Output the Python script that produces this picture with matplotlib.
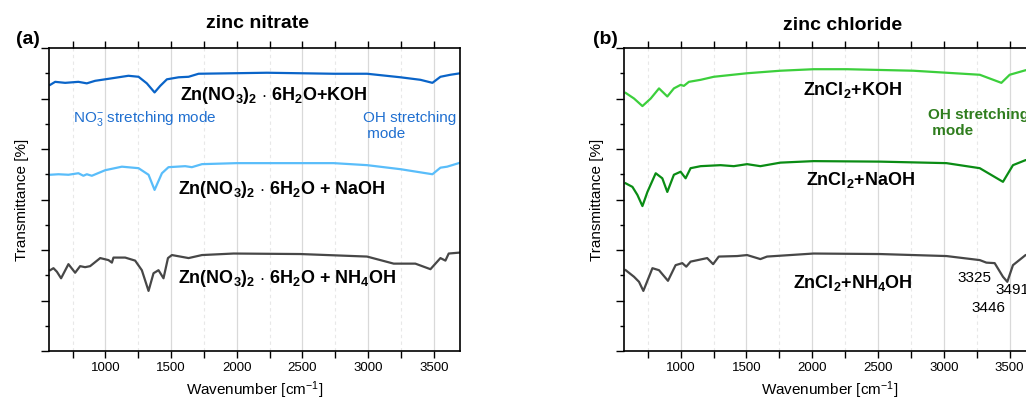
import matplotlib.pyplot as plt
from matplotlib.ticker import MultipleLocator

plt.rcParams['font.family'] = ['Liberation Sans', 'DejaVu Sans']
plt.rcParams['mathtext.fontset'] = 'custom'
plt.rcParams['mathtext.rm'] = 'Liberation Sans'
plt.rcParams['mathtext.bf'] = 'Liberation Sans:bold'
plt.rcParams['mathtext.it'] = 'Liberation Sans:italic'

# ---- zinc nitrate (a) ----
nit_koh_x = [579, 617, 693, 794, 858, 921, 1049, 1175, 1252, 1315, 1374, 1417, 1468, 1557, 1633, 1709,
             1973, 2230, 2484, 2738, 2993, 3247, 3399, 3490, 3551, 3627, 3703]
nit_koh_y = [5.27, 5.33, 5.31, 5.33, 5.30, 5.35, 5.40, 5.45, 5.43, 5.30, 5.12, 5.25, 5.38, 5.42, 5.43, 5.49,
             5.50, 5.51, 5.50, 5.49, 5.49, 5.42, 5.37, 5.31, 5.43, 5.47, 5.50]

nit_naoh_x = [579, 642, 718, 794, 832, 858, 896, 998, 1125, 1252, 1328, 1374, 1430, 1480, 1607, 1658, 1735,
              2000, 2500, 2738, 2993, 3247, 3490, 3551, 3602, 3703]
nit_naoh_y = [3.49, 3.50, 3.49, 3.52, 3.47, 3.50, 3.47, 3.58, 3.65, 3.62, 3.49, 3.19, 3.52, 3.64, 3.66, 3.64,
              3.70, 3.72, 3.72, 3.72, 3.68, 3.60, 3.50, 3.63, 3.65, 3.73]

nit_nh4_x = [579, 604, 630, 662, 718, 769, 807, 845, 883, 960, 1023, 1049, 1061, 1150, 1226, 1277, 1328,
             1366, 1404, 1442, 1476, 1506, 1633, 1735, 1976, 2484, 2992, 3195, 3360, 3475, 3551, 3589,
             3614, 3703]
nit_nh4_y = [1.60, 1.64, 1.57, 1.44, 1.72, 1.55, 1.68, 1.66, 1.68, 1.84, 1.80, 1.75, 1.85, 1.85, 1.79, 1.60,
             1.19, 1.54, 1.60, 1.44, 1.84, 1.90, 1.84, 1.90, 1.93, 1.92, 1.87, 1.73, 1.73, 1.62, 1.84, 1.79,
             1.93, 1.95]

# ---- zinc chloride (b) ----
chl_koh_x = [583, 646, 710, 773, 836, 899, 949, 1000, 1025, 1063, 1152, 1252, 1505, 1758, 2010, 2263, 2768,
             3273, 3437, 3500, 3621, 3700]
chl_koh_y = [5.11, 5.00, 4.85, 5.00, 5.20, 5.04, 5.20, 5.27, 5.25, 5.33, 5.37, 5.43, 5.50, 5.55, 5.58, 5.58,
             5.55, 5.47, 5.31, 5.47, 5.56, 5.57]

chl_naoh_x = [583, 634, 672, 710, 748, 811, 861, 899, 949, 1000, 1038, 1076, 1152, 1303, 1404, 1505, 1606,
              1758, 2010, 2515, 3020, 3273, 3449, 3525, 3621, 3700]
chl_naoh_y = [3.32, 3.25, 3.09, 2.87, 3.15, 3.52, 3.42, 3.15, 3.49, 3.55, 3.42, 3.62, 3.66, 3.68, 3.66, 3.70,
              3.66, 3.73, 3.76, 3.75, 3.72, 3.62, 3.35, 3.68, 3.78, 3.79]

chl_nh4_x = [583, 646, 684, 717, 786, 836, 904, 962, 1013, 1043, 1076, 1202, 1247, 1290, 1429, 1505, 1581,
             1606, 1657, 2010, 2515, 3020, 3273, 3323, 3386, 3449, 3482, 3525, 3621, 3700]
chl_nh4_y = [1.60, 1.47, 1.37, 1.19, 1.64, 1.60, 1.39, 1.70, 1.74, 1.67, 1.77, 1.84, 1.72, 1.87, 1.88, 1.90,
             1.84, 1.82, 1.87, 1.93, 1.92, 1.88, 1.80, 1.75, 1.74, 1.47, 1.37, 1.70, 1.90, 1.92]

XMIN, XMAX = 570, 3700
W, H = 1026, 401


def style_axes(ax):
    ax.set_xlim(XMIN, XMAX)
    ax.set_ylim(0, 6)
    ax.xaxis.set_major_locator(MultipleLocator(500))
    ax.xaxis.set_minor_locator(MultipleLocator(250))
    ax.yaxis.set_major_locator(MultipleLocator(1))
    ax.yaxis.set_minor_locator(MultipleLocator(0.5))
    ax.set_yticklabels([])
    ax.grid(True, which='major', axis='x', color='#d9d9d9', lw=0.9)
    ax.grid(True, which='minor', axis='x', color='#e8e8e8', lw=0.8, ls=(0, (3, 3)))
    ax.set_axisbelow(True)
    ax.tick_params(axis='x', which='both', top=True, direction='out', labelsize=9.5, pad=3)
    ax.tick_params(axis='x', which='both', length=5, width=1)
    ax.tick_params(axis='y', which='major', length=6, width=1)
    ax.tick_params(axis='y', which='minor', length=3, width=1)
    for s in ax.spines.values():
        s.set_linewidth(1.2)
    ax.set_xlabel('Wavenumber [cm$^{-1}$]', fontsize=11, labelpad=4)
    ax.set_ylabel('Transmittance [%]', fontsize=11, labelpad=5)


fig = plt.figure(figsize=(W / 100, H / 100), dpi=100)
ax1 = fig.add_axes([49 / W, 1 - 351 / H, 411 / W, 303 / H])
ax2 = fig.add_axes([624 / W, 1 - 351 / H, 412 / W, 303 / H])

# panel (a)
style_axes(ax1)
ax1.plot(nit_koh_x, nit_koh_y, color='#0a64c8', lw=1.6)
ax1.plot(nit_naoh_x, nit_naoh_y, color='#59bdfa', lw=1.6)
ax1.plot(nit_nh4_x, nit_nh4_y, color='#474747', lw=1.6)
ax1.text(1569, 5.05, r'$\mathbf{Zn(NO_3)_2}$ $\mathbf{\cdot}$ $\mathbf{6H_2O{+}KOH}$', fontsize=13,
         va='center', ha='left', fontweight='bold')
ax1.text(1555, 3.19, r'$\mathbf{Zn(NO_3)_2}$ $\mathbf{\cdot}$ $\mathbf{6H_2O}$ + NaOH', fontsize=13,
         va='center', ha='left', fontweight='bold')
ax1.text(1555, 1.43, r'$\mathbf{Zn(NO_3)_2}$ $\mathbf{\cdot}$ $\mathbf{6H_2O}$ + $\mathbf{NH_4}$OH', fontsize=13,
         va='center', ha='left', fontweight='bold')
ax1.text(754, 4.61, r'NO$_3^{-}$ stretching mode', fontsize=11, color='#1f6fd0', va='center')
ax1.text(2962, 4.45, 'OH stretching\n mode', fontsize=11, color='#1f6fd0', va='center', linespacing=1.15)
fig.text(258 / W, 1 - 23 / H, 'zinc nitrate', fontsize=14, fontweight='bold', ha='center', va='center')
fig.text(28 / W, 1 - 39 / H, '(a)', fontsize=14, fontweight='bold', ha='center', va='center')

# panel (b)
style_axes(ax2)
ax2.plot(chl_koh_x, chl_koh_y, color='#3ccf3c', lw=1.6)
ax2.plot(chl_naoh_x, chl_naoh_y, color='#0a8c14', lw=1.6)
ax2.plot(chl_nh4_x, chl_nh4_y, color='#474747', lw=1.6)
ax2.text(1932, 5.17, r'$\mathbf{ZnCl_2{+}KOH}$', fontsize=13, va='center', ha='left')
ax2.text(1955, 3.39, r'$\mathbf{ZnCl_2{+}NaOH}$', fontsize=13, va='center', ha='left')
ax2.text(1856, 1.35, r'$\mathbf{ZnCl_2{+}NH_4OH}$', fontsize=13, va='center', ha='left')
ax2.text(2879, 4.51, 'OH stretching\n mode', fontsize=11, color='#2f7d1e', fontweight='bold',
         va='center', linespacing=1.15)
ax2.text(3106, 1.45, '3325', fontsize=11, va='center')
ax2.text(3394, 1.21, '3491', fontsize=11, va='center')
ax2.text(3212, 0.85, '3446', fontsize=11, va='center')
fig.text(843 / W, 1 - 25 / H, 'zinc chloride', fontsize=14, fontweight='bold', ha='center', va='center')
fig.text(605 / W, 1 - 39 / H, '(b)', fontsize=14, fontweight='bold', ha='center', va='center')

fig.savefig('out.png', dpi=100)
